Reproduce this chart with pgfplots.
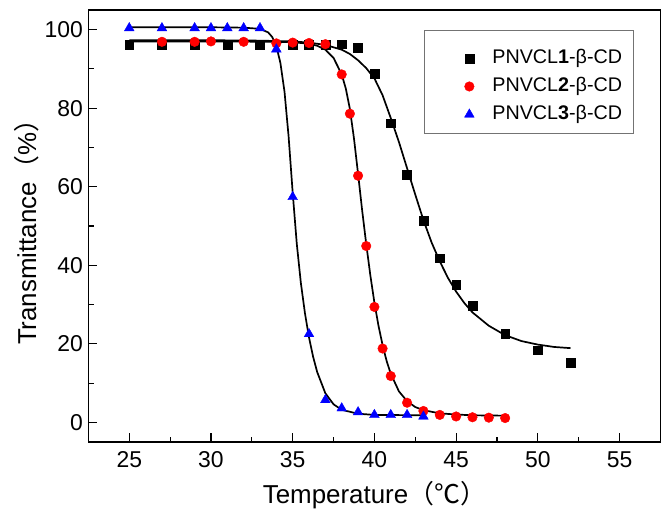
\documentclass[border=0pt]{standalone}
\usepackage{fontspec}
\setmainfont{Liberation Sans}
\newfontfamily\cjk{Noto Sans CJK SC}
\usepackage{pgfplots}
\pgfplotsset{compat=1.18}
\begin{document}
\begin{tikzpicture}
\begin{axis}[
  scale only axis, width=572bp, height=432bp,
  xmin=22.5, xmax=57.5, ymin=-5, ymax=105,
  xtick={25,30,...,55}, ytick={0,20,...,100},
  minor x tick num=1, minor y tick num=1,
  tick align=inside, tick pos=left,
  major tick length=9bp, minor tick length=5.5bp,
  axis line style={line width=1.2bp},
  tick style={line width=1.1bp, black},
  tick label style={font=\fontsize{23}{27}\selectfont},
  /pgf/number format/assume math mode=true,
  xticklabel style={yshift=-6bp},
  yticklabel style={xshift=-2bp},
  xlabel={Temperature{\cjk （℃）}},
  ylabel={Transmittance{\cjk （}\%{\cjk ）}},
  xlabel style={at={(rel axis cs:0.5,-0.1227)}, anchor=center, font=\fontsize{26}{30}\selectfont},
  ylabel style={at={(rel axis cs:-0.1084,0.5)}, anchor=center, font=\fontsize{26}{30}\selectfont},
  legend style={name=leg, at={(rel axis cs:0.587,0.9315)}, anchor=north west, draw=none,
    font=\fontsize{19.8}{23}\selectfont, inner xsep=9bp, inner ysep=9.7bp, row sep=10bp,
    nodes={inner ysep=0pt, text height=14bp, text depth=4bp}},
  legend cell align=left,
  legend image code/.code={\path[draw=none,fill=none] (-36bp,-1bp) rectangle (21bp,1bp); \draw[#1] plot coordinates {(0bp,0bp)};},
]
\coordinate (sw) at (rel axis cs:0,0);
\coordinate (ne) at (rel axis cs:1,1);
% PNVCL1
\addplot[only marks, mark=square*, mark size=4.4bp, black] coordinates {
(25,96.2) (27,96.2) (29,96.2) (31,96.2) (33,96.2) (35,96.2) (36,96.2) (37,96.2)
(38,96.3) (39,95.4) (40,88.8) (41,76.2) (42,63.1) (43,51.3) (44,41.8) (45,35.0)
(46,29.7) (48,22.6) (50,18.4) (52,15.2)};
\addlegendentry{PNVCL\textbf{1}-β-CD}
% PNVCL2
\addplot[only marks, mark=*, mark size=4.8bp, draw=red, fill=red] coordinates {
(27,96.9) (29,96.9) (30,97.0) (32,96.9) (34,96.5) (35,96.7) (36,96.6) (37,96.3)
(38,88.6) (38.5,78.6) (39,62.8) (39.5,44.9) (40,29.4) (40.5,18.8) (41,11.8)
(42,5.0) (43,2.9) (44,1.9) (45,1.5) (46,1.3) (47,1.2) (48,1.1)};
\addlegendentry{PNVCL\textbf{2}-β-CD}
% PNVCL3
\addplot[only marks, mark=triangle*, mark size=5.6bp, draw=blue, fill=blue] coordinates {
(25,100.4) (27,100.4) (29,100.4) (30,100.4) (31,100.4) (32,100.4) (33,100.4)
(34,95.0) (35,57.4) (36,22.5) (37,5.7) (38,3.6) (39,2.6) (40,1.9) (41,1.9) (42,1.9) (43,1.5)};
\addlegendentry{PNVCL\textbf{3}-β-CD}
% fitted curves
\addplot[forget plot, black, line width=1.7bp] coordinates {
(25,97.3) (30,97.3) (33,97.2) (35,97.0) (36,96.7) (37,96.1) (38,94.9) (38.5,93.8)
(39,92.2) (39.5,90.2) (40,87.6) (40.5,83.3) (41,77.5) (41.5,71.4) (42,64.7) (42.5,58.0)
(43,51.5) (43.5,45.8) (44,41.0) (44.5,36.8) (45,33.3) (45.5,30.4) (46,28.0) (47,24.6)
(48,22.2) (49,20.7) (50,19.8) (51,19.2) (52,18.9)};
\addplot[forget plot, black, line width=1.7bp] coordinates {
(25,97.0) (30,97.0) (34,96.9) (35,96.8) (36,96.4) (36.5,95.9) (37,94.9) (37.5,92.8)
(38,88.6) (38.25,85.0) (38.5,79.8) (38.75,72.3) (39,63.3) (39.25,54.0) (39.5,45.4)
(39.75,37.5) (40,30.5) (40.25,24.6) (40.5,19.7) (40.75,15.6) (41,12.4) (41.5,7.9)
(42,5.4) (42.5,3.9) (43,3.1) (44,2.3) (45,2.0) (46,1.8) (48,1.7)};
\addplot[forget plot, black, line width=1.7bp] coordinates {
(25,100.6) (30,100.6) (32,100.5) (33,100.2) (33.5,99.3) (33.75,98.1) (34,95.8)
(34.25,91.5) (34.5,84.2) (34.75,72.8) (35,58.5) (35.25,45.5) (35.5,35.5) (35.75,27.8)
(36,21.6) (36.25,16.7) (36.5,12.8) (37,7.4) (37.5,4.6) (38,3.2) (39,2.2) (40,1.9) (43,1.8)};
\end{axis}
\draw[line width=0.9bp, black!55] (leg.south west) rectangle ([yshift=9.6bp]leg.north east);
\pgfresetboundingbox
\path ([shift={(-88.4bp,-73bp)}]sw) rectangle ([shift={(0.6bp,10bp)}]ne);
\end{tikzpicture}
\end{document}
